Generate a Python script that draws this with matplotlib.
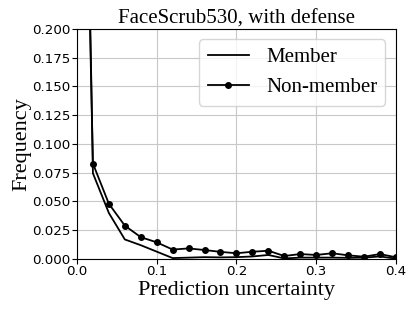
import numpy as np
import matplotlib
matplotlib.use('Agg')
import matplotlib.pyplot as plt

# bin centres of the uncertainty histogram
x = [0.00, 0.02, 0.04, 0.06, 0.08, 0.10, 0.12, 0.14, 0.16, 0.18, 0.20,
     0.22, 0.24, 0.26, 0.28, 0.30, 0.32, 0.34, 0.36, 0.38, 0.40]

member = [0.85, 0.0745, 0.040, 0.017, 0.012, 0.0064, 0.0008, 0.0012, 0.0016, 0.0014, 0.0016,
          0.0022, 0.0035, 0.0005, 0.0012, 0.0012, 0.0012, 0.0010, 0.0012, 0.0022, 0.0003]

non_member = [0.73, 0.083, 0.048, 0.029, 0.019, 0.0145, 0.0082, 0.0092, 0.0078, 0.0062, 0.0050,
              0.0063, 0.0072, 0.0026, 0.0043, 0.0035, 0.0050, 0.0032, 0.0020, 0.0043, 0.0015]

serif = 'Liberation Serif'

fig = plt.figure(figsize=(4.15, 3.11), dpi=100)
ax = fig.add_axes([0.1855, 0.1672, 0.7685, 0.7396])

ax.plot(x, member, color='black', lw=1.3, label='Member')
ax.plot(x, non_member, color='black', lw=1.3, marker='o', markersize=4, label='Non-member')

ax.set_xlim(0, 0.4)
ax.set_ylim(0, 0.2)
ax.set_xticks([0.0, 0.1, 0.2, 0.3, 0.4])
ax.set_yticks(np.arange(0, 0.201, 0.025))
ax.yaxis.set_major_formatter(matplotlib.ticker.FormatStrFormatter('%.3f'))
ax.tick_params(labelsize=9.6, length=3.5, pad=1)
ax.grid(True, color='#c8c8c8', lw=0.8)

ax.set_title('FaceScrub530, with defense', fontsize=15, family=serif, pad=4)
ax.set_xlabel('Prediction uncertainty', fontsize=16, family=serif, labelpad=2)
ax.set_ylabel('Frequency', fontsize=16, family=serif, labelpad=1)
ax.legend(loc='upper right', prop={'family': serif, 'size': 15})

fig.savefig('out.png', dpi=100)
